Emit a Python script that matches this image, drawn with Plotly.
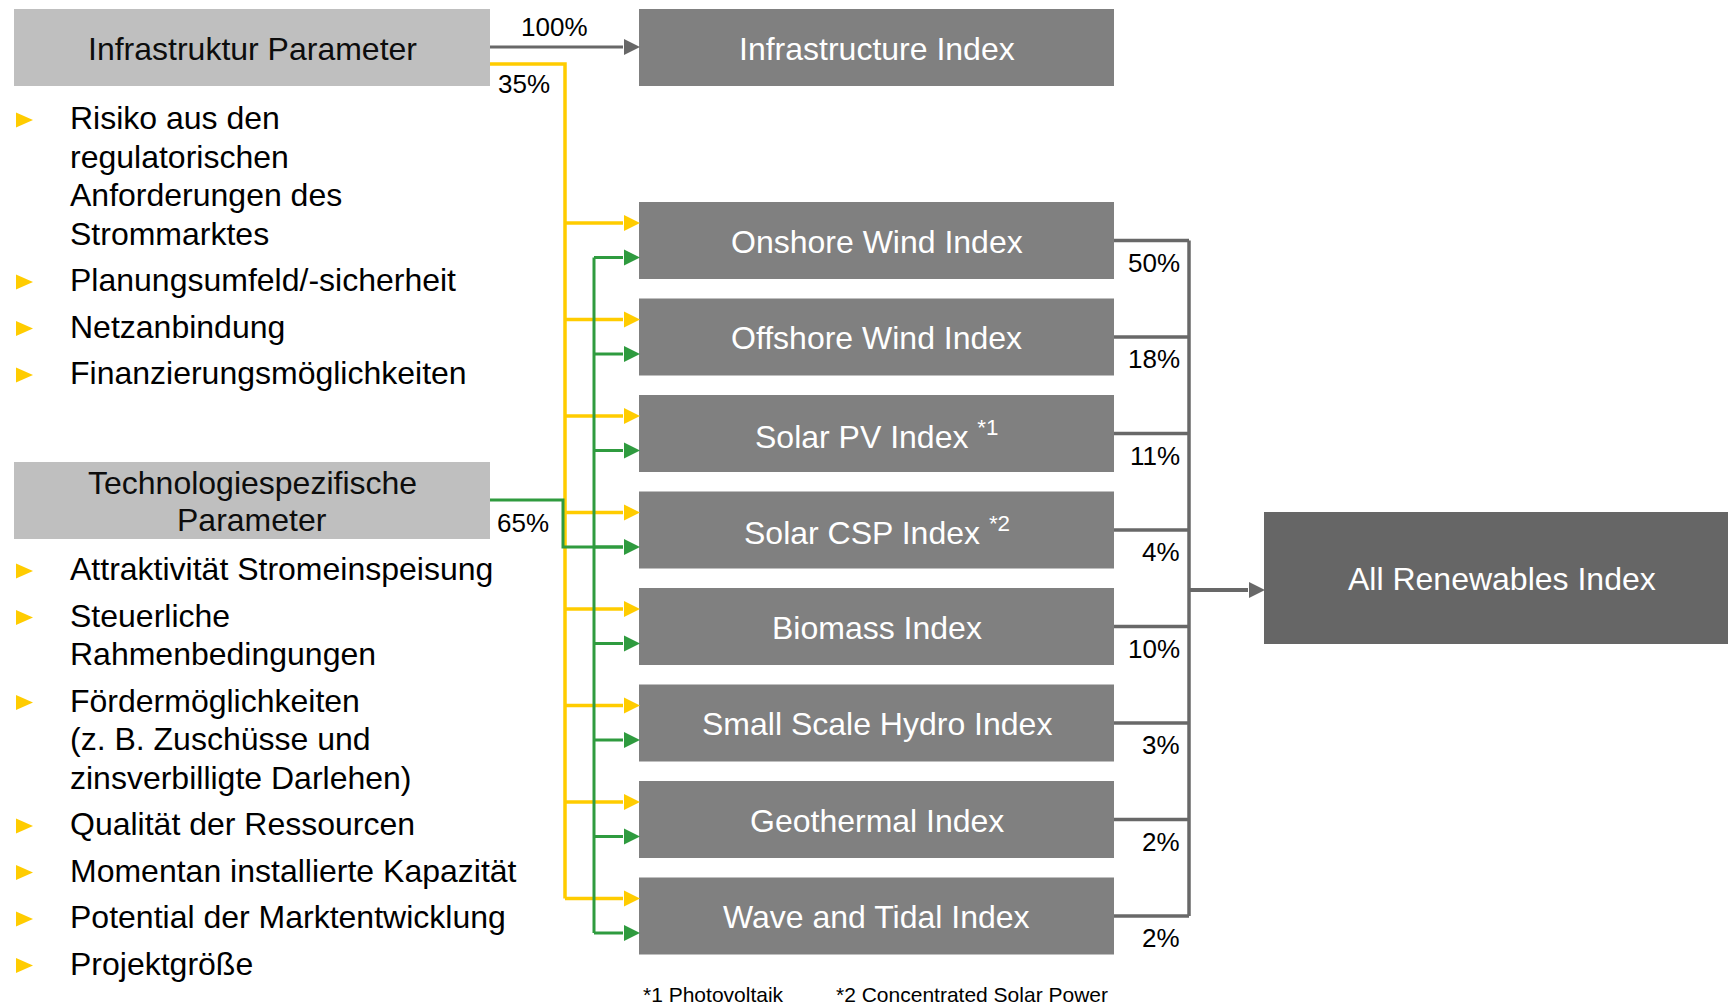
import plotly.graph_objects as go

# ---------------- data ----------------
index_names = ["Onshore Wind Index", "Offshore Wind Index", "Solar PV Index <sup>*1</sup>",
               "Solar CSP Index <sup>*2</sup>", "Biomass Index", "Small Scale Hydro Index",
               "Geothermal Index", "Wave and Tidal Index"]
index_weights = [50, 18, 11, 4, 10, 3, 2, 2]
param_names = [["Infrastruktur Parameter"], ["Technologiespezifische", "Parameter"]]
param_shares = [35, 65]
infra_index_name = "Infrastructure Index"
infra_index_share = 100
total_name = "All Renewables Index"
infra_bullets = [["Risiko aus den", "regulatorischen", "Anforderungen des", "Strommarktes"],
                 ["Planungsumfeld/-sicherheit"], ["Netzanbindung"], ["Finanzierungsmöglichkeiten"]]
tech_bullets = [["Attraktivität Stromeinspeisung"], ["Steuerliche", "Rahmenbedingungen"],
                ["Fördermöglichkeiten", "(z. B. Zuschüsse und", "zinsverbilligte Darlehen)"],
                ["Qualität der Ressourcen"], ["Momentan installierte Kapazität"],
                ["Potential der Marktentwicklung"], ["Projektgröße"]]
footnotes = ["*1 Photovoltaik", "*2 Concentrated Solar Power"]

# ---------------- style / geometry ----------------
W, H = 1728, 1007
FONT = "Liberation Sans, Arial, Helvetica, sans-serif"
YELLOW = "#FFCC00"
GREEN = "#2F9B3F"
LGRAY = "#BFBFBF"
MGRAY = "#808080"
DGRAY = "#666666"
LINEG = "#686868"
FS = 32

PX0, PX1 = 14, 490
P_TOP = [9, 462]
BOX_H = 77
IX0, IX1 = 639, 1114
I_TOP0, I_STEP = 202, 96.5
YBUS, GBUS, GTURN = 565, 594, 563
RBUS = 1189
AR0, AR1, AR_TOP, AR_BOT = 1264, 1728, 512, 644
HEAD_L, HEAD_W = 16, 8

shapes = []
ann = []


def rect(x0, y0, x1, y1, color):
    shapes.append(dict(type="rect", x0=x0, x1=x1, y0=y0, y1=y1, fillcolor=color,
                       line=dict(width=0), layer="below"))


def poly(pts, color, width):
    d = "M " + " L ".join(f"{x},{y}" for x, y in pts)
    shapes.append(dict(type="path", path=d, line=dict(color=color, width=width)))


def head(xtip, y, color):
    d = f"M {xtip},{y} L {xtip-HEAD_L},{y-HEAD_W} L {xtip-HEAD_L},{y+HEAD_W} Z"
    shapes.append(dict(type="path", path=d, fillcolor=color, line=dict(color=color, width=0)))


def text(x, y, s, size, color="#000000", xanchor="center"):
    ann.append(dict(x=x, y=y, text=s, showarrow=False, xanchor=xanchor, yanchor="middle",
                    font=dict(family=FONT, size=size, color=color), align="center"))


# parameter boxes
LINE_H = 37.5
for i, lines in enumerate(param_names):
    rect(PX0, P_TOP[i], PX1, P_TOP[i] + BOX_H, LGRAY)
    c = P_TOP[i] + BOX_H / 2 + 1
    for j, ln in enumerate(lines):
        text((PX0 + PX1) / 2, c + (j - (len(lines) - 1) / 2) * LINE_H, ln, FS, "#0D0D0D")

# infrastructure index box
rect(IX0, P_TOP[0], IX1, P_TOP[0] + BOX_H, MGRAY)
text((IX0 + IX1) / 2, P_TOP[0] + BOX_H / 2 + 1, infra_index_name, FS, "#FFFFFF")
mid0 = P_TOP[0] + 38
poly([(PX1, mid0), (IX0 - HEAD_L, mid0)], LINEG, 3)
head(IX0 + 1, mid0, LINEG)
text(554, 27, f"{infra_index_share}%", 26)

# index boxes
tops = [I_TOP0 + k * I_STEP for k in range(len(index_names))]
y_yel = [t + 21 for t in tops]
y_grn = [t + 55.5 for t in tops]
y_mid = [t + BOX_H / 2 for t in tops]
for k, name in enumerate(index_names):
    rect(IX0, tops[k], IX1, tops[k] + BOX_H, MGRAY)
    text((IX0 + IX1) / 2, y_mid[k] + 1, name, FS, "#FFFFFF")

# yellow network (infrastructure parameters)
y_inf = P_TOP[0] + 55
poly([(PX1, y_inf), (YBUS, y_inf), (YBUS, y_yel[-1])], YELLOW, 3.5)
for y in y_yel:
    poly([(YBUS, y), (IX0 - HEAD_L, y)], YELLOW, 3.5)
    head(IX0 + 1, y, YELLOW)
text(524, 84, f"{param_shares[0]}%", 26)

# green network (technology parameters)
y_tech = P_TOP[1] + 38
csp = 3
poly([(PX1, y_tech), (GTURN, y_tech), (GTURN, y_grn[csp]), (IX0 - HEAD_L, y_grn[csp])], GREEN, 3)
poly([(GBUS, y_grn[0]), (GBUS, y_grn[-1])], GREEN, 3)
for y in y_grn:
    poly([(GBUS, y), (IX0 - HEAD_L, y)], GREEN, 3)
    head(IX0 + 1, y, GREEN)
text(523, 523, f"{param_shares[1]}%", 26)

# right side connectors with weights
for k, w in enumerate(index_weights):
    poly([(IX1, y_mid[k]), (RBUS, y_mid[k])], LINEG, 3.5)
    text(1182, y_mid[k] + 22, f"{w}%", 26, xanchor="right")
poly([(RBUS, y_mid[0]), (RBUS, y_mid[-1])], LINEG, 3.5)
y_ar = (AR_TOP + AR_BOT) / 2 + 12
poly([(RBUS, y_ar), (AR0 - HEAD_L, y_ar)], LINEG, 4)
head(AR0 + 1, y_ar, LINEG)

# all renewables box
rect(AR0, AR_TOP, AR1, AR_BOT, DGRAY)
text((AR0 + AR1) / 2 + 6, (AR_TOP + AR_BOT) / 2 + 1, total_name, FS, "#FFFFFF")


# bullet lists
def bullets(groups, y0):
    y = y0
    for g in groups:
        ty = y + 2
        d = f"M 16,{ty-7.5} L 33,{ty} L 16,{ty+7.5} Z"
        shapes.append(dict(type="path", path=d, fillcolor=YELLOW, line=dict(width=0)))
        for j, line in enumerate(g):
            text(68, y + j * 38.5, line, FS, xanchor="left")
        y = y + (len(g) - 1) * 38.5 + 46.5


bullets(infra_bullets, 118)
bullets(tech_bullets, 569)

# footnotes
text(641, 994, footnotes[0], 21, xanchor="left")
text(834, 994, footnotes[1], 21, xanchor="left")

fig = go.Figure()
fig.update_layout(
    width=W, height=H, margin=dict(l=0, r=0, t=0, b=0),
    paper_bgcolor="white", plot_bgcolor="white",
    xaxis=dict(range=[0, W], visible=False, fixedrange=True),
    yaxis=dict(range=[H, 0], visible=False, fixedrange=True),
    shapes=shapes, annotations=ann, showlegend=False,
)
fig.write_html("out.html", config={"displayModeBar": False},
               post_script="document.body.style.margin='0';document.body.style.overflow='hidden';")
